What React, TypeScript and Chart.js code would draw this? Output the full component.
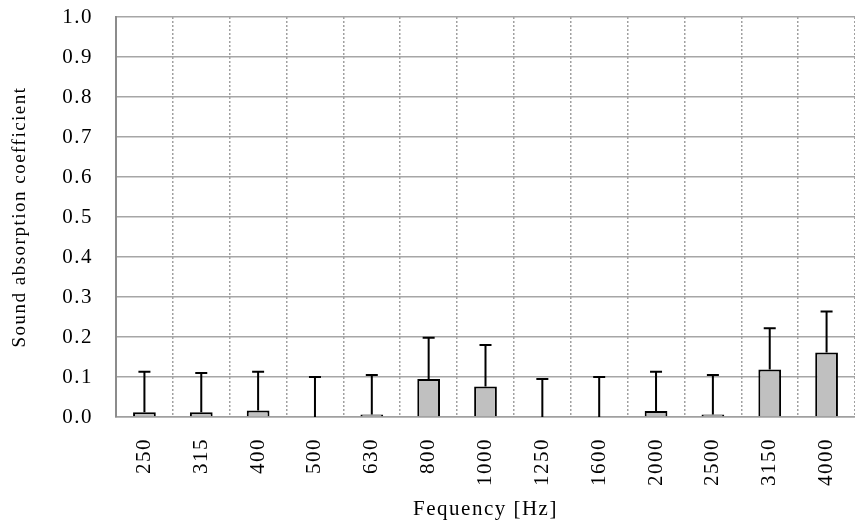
import { useEffect, useRef } from "react";
import { Chart, registerables } from "chart.js";

Chart.register(...registerables);

// Data
const frequencies = ["250", "315", "400", "500", "630", "800", "1000", "1250", "1600", "2000", "2500", "3150", "4000"];
const absorption = [0.012, 0.012, 0.016, 0.0, 0.006, 0.095, 0.076, 0.0, 0.0, 0.015, 0.006, 0.119, 0.161];
const errorUpper = [0.101, 0.098, 0.097, 0.1, 0.099, 0.103, 0.104, 0.095, 0.1, 0.098, 0.099, 0.103, 0.103];
const yMin = 0;
const yMax = 1;
const yStep = 0.1;

const FONT = "'Liberation Serif', 'Times New Roman', serif";
const SPACING = "1.5px";

const spacingPlugin = {
  id: "letterSpacing",
  beforeUpdate(chart: any) {
    chart.ctx.letterSpacing = SPACING;
  },
  beforeLayout(chart: any) {
    chart.ctx.letterSpacing = SPACING;
  },
  beforeDraw(chart: any) {
    chart.ctx.letterSpacing = SPACING;
  },
};

const errorBarPlugin = {
  id: "errorBars",
  afterDatasetsDraw(chart: any) {
    const meta = chart.getDatasetMeta(0);
    const yScale = chart.scales.y;
    const ctx = chart.ctx;
    ctx.save();
    ctx.strokeStyle = "#000000";
    ctx.lineWidth = 2;
    meta.data.forEach((bar: any, i: number) => {
      const x = bar.x;
      const y0 = yScale.getPixelForValue(absorption[i]);
      const y1 = yScale.getPixelForValue(absorption[i] + errorUpper[i]);
      ctx.beginPath();
      ctx.moveTo(x, y0);
      ctx.lineTo(x, y1);
      ctx.moveTo(x - 6, y1);
      ctx.lineTo(x + 6, y1);
      ctx.stroke();
    });
    ctx.restore();
  },
};

export default function App() {
  const canvasRef = useRef<HTMLCanvasElement | null>(null);

  useEffect(() => {
    const canvas = canvasRef.current;
    if (!canvas) return;
    const chart = new Chart(canvas, {
      type: "bar",
      data: {
        labels: frequencies,
        datasets: [
          {
            data: absorption,
            backgroundColor: "#c0c0c0",
            borderColor: "#000000",
            borderWidth: 2,
            categoryPercentage: 1,
            barPercentage: 0.4,
          },
        ],
      },
      options: {
        responsive: false,
        animation: false,
        devicePixelRatio: 1,
        layout: { padding: { top: 17, right: 0, left: 0, bottom: 0 } },
        plugins: {
          legend: { display: false },
          tooltip: { enabled: false },
        },
        scales: {
          x: {
            grid: {
              color: "#a0a0a0",
              lineWidth: 1.5,
              drawTicks: false,
              offset: true,
            },
            border: { color: "#a0a0a0", width: 1.5, dash: [2, 2] },
            ticks: {
              autoSkip: false,
              minRotation: 90,
              maxRotation: 90,
              padding: 21,
              color: "#000000",
              font: { family: FONT, size: 21 },
            },
            title: {
              display: true,
              text: "Fequency [Hz]",
              color: "#000000",
              font: { family: FONT, size: 21 },
              padding: { top: 6, bottom: 6 },
            },
            afterFit(scale: any) {
              scale.height = 111;
              scale.paddingLeft = 0;
              scale.paddingRight = 0;
            },
          },
          y: {
            min: yMin,
            max: yMax,
            grid: {
              color: "#a6a6a6",
              lineWidth: 1.5,
              drawTicks: false,
            },
            border: { color: "#8c8c8c", width: 2 },
            ticks: {
              stepSize: yStep,
              padding: 23,
              color: "#000000",
              font: { family: FONT, size: 21 },
              callback: (v: any) => Number(v).toFixed(1),
            },
            title: {
              display: true,
              text: "Sound absorption coefficient",
              color: "#000000",
              font: { family: FONT, size: 19 },
              padding: { top: 9, bottom: 9 },
            },
            afterFit(scale: any) {
              scale.width = 116;
              scale.paddingTop = 0;
              scale.paddingBottom = 0;
            },
          },
        },
      },
      plugins: [spacingPlugin, errorBarPlugin],
    } as any);
    return () => chart.destroy();
  }, []);

  return (
    <div style={{ position: "fixed", left: 0, top: 0, width: 855, height: 528, background: "#ffffff" }}>
      <canvas ref={canvasRef} width={855} height={528} style={{ display: "block" }} />
    </div>
  );
}
